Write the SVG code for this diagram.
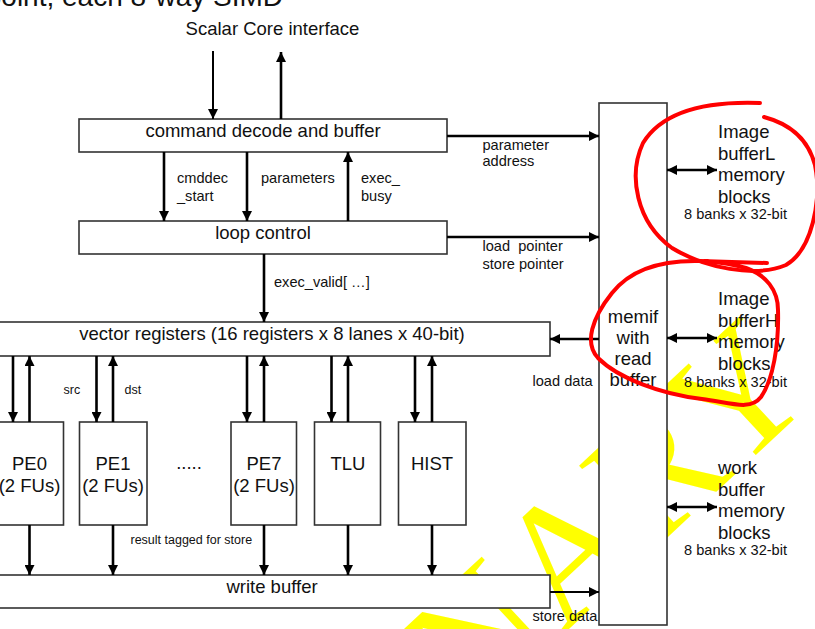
<svg xmlns="http://www.w3.org/2000/svg" width="815" height="629" viewBox="0 0 815 629">
<defs>
<style>
.box{fill:#fff;stroke:#333;stroke-width:1.6}
.ln{stroke:#000;stroke-width:2.6;fill:none}
.thin{stroke:#000;stroke-width:2;fill:none}
.t{font-family:"Liberation Sans",Arial,sans-serif;fill:#111}
.big{font-size:18.5px}
.mid{font-size:14.6px}
.sm{font-size:12.5px}
.c{text-anchor:middle}
.red{fill:none;stroke:#f00;stroke-width:4;stroke-linecap:round;stroke-linejoin:round}
</style>
<marker id="ah" viewBox="0 0 10 10" refX="10" refY="5" markerWidth="10" markerHeight="10" markerUnits="userSpaceOnUse" orient="auto-start-reverse"><path d="M0,0 L10,5 L0,10 z" fill="#000"/></marker>
</defs>
<rect width="815" height="629" fill="#fff"/>
<g id="watermark">
<text transform="translate(820,395) rotate(-43)" text-anchor="end" font-family="Liberation Serif,serif" font-size="172" fill="#ffff00">NARY</text>
</g>
<text class="t" x="283" y="6" text-anchor="end" font-size="28">point, each 8-way SIMD</text>
<text class="t big c" x="272.5" y="35">Scalar Core interface</text>
<g id="cmd"><rect class="box" x="79" y="119" width="368" height="33"/><text class="t big c" x="263" y="137">command decode and buffer</text></g>
<g id="loop"><rect class="box" x="79" y="221" width="368" height="33"/><text class="t big c" x="263" y="239">loop control</text></g>
<g id="vreg"><rect class="box" x="-5" y="322" width="555" height="34"/><text class="t big c" x="272" y="340">vector registers (16 registers x 8 lanes x 40-bit)</text></g>
<g id="pe0"><rect class="box" x="-4" y="422" width="67.5" height="103"/><text class="t big c" x="29.5" y="470">PE0</text><text class="t big c" x="29.5" y="492">(2 FUs)</text></g>
<g id="pe1"><rect class="box" x="79.5" y="422" width="67.5" height="103"/><text class="t big c" x="113" y="470">PE1</text><text class="t big c" x="113" y="492">(2 FUs)</text></g>
<text class="t big c" x="189" y="469">.....</text>
<g id="pe7"><rect class="box" x="231" y="422" width="65.5" height="103"/><text class="t big c" x="264" y="470">PE7</text><text class="t big c" x="264" y="492">(2 FUs)</text></g>
<g id="tlu"><rect class="box" x="314.5" y="422" width="66" height="103"/><text class="t big c" x="348" y="470">TLU</text></g>
<g id="hist"><rect class="box" x="398.5" y="422" width="67.5" height="103"/><text class="t big c" x="432" y="470">HIST</text></g>
<g id="wbuf"><rect class="box" x="-5" y="575" width="555" height="33"/><text class="t big c" x="272" y="593">write buffer</text></g>
<g id="memif"><rect class="box" x="599" y="103" width="68" height="522"/><text class="t big c" x="633" y="323">memif</text><text class="t big c" x="633" y="344">with</text><text class="t big c" x="633" y="365">read</text><text class="t big c" x="633" y="386">buffer</text></g>
<g id="bufL"><text class="t big" x="718" y="138">Image</text><text class="t big" x="718" y="159.5">bufferL</text><text class="t big" x="718" y="181">memory</text><text class="t big" x="718" y="202.5">blocks</text><text class="t mid" x="684" y="218.5">8 banks x 32-bit</text></g>
<g id="bufH"><text class="t big" x="718" y="305">Image</text><text class="t big" x="718" y="326.5">bufferH</text><text class="t big" x="718" y="348">memory</text><text class="t big" x="718" y="369.5">blocks</text><text class="t mid" x="684" y="386.5">8 banks x 32-bit</text></g>
<g id="work"><text class="t big" x="718" y="474">work</text><text class="t big" x="718" y="496">buffer</text><text class="t big" x="718" y="517">memory</text><text class="t big" x="718" y="539">blocks</text><text class="t mid" x="684" y="555">8 banks x 32-bit</text></g>
<g id="connectors">
<line class="thin" x1="213" y1="51" x2="213" y2="119" marker-end="url(#ah)"/>
<line class="ln" x1="281" y1="119" x2="281" y2="52" marker-end="url(#ah)"/>
<line class="ln" x1="164" y1="152" x2="164" y2="221" marker-end="url(#ah)"/>
<line class="ln" x1="247" y1="152" x2="247" y2="221" marker-end="url(#ah)"/>
<line class="ln" x1="348" y1="221" x2="348" y2="152" marker-end="url(#ah)"/>
<line class="ln" x1="447" y1="136" x2="599" y2="136" marker-end="url(#ah)"/>
<line class="ln" x1="447" y1="237" x2="599" y2="237" marker-end="url(#ah)"/>
<line class="ln" x1="264" y1="254" x2="264" y2="322" marker-end="url(#ah)"/>
<line class="ln" x1="599" y1="339" x2="550" y2="339" marker-end="url(#ah)"/>
<line class="ln" x1="667" y1="170" x2="717" y2="170" marker-start="url(#ah)" marker-end="url(#ah)"/>
<line class="ln" x1="667" y1="338" x2="717" y2="338" marker-start="url(#ah)" marker-end="url(#ah)"/>
<line class="ln" x1="667" y1="507" x2="717" y2="507" marker-start="url(#ah)" marker-end="url(#ah)"/>
<line class="thin" x1="550" y1="592" x2="599" y2="592" marker-end="url(#ah)"/>
<line class="ln" x1="13" y1="356" x2="13" y2="422" marker-end="url(#ah)"/>
<line class="ln" x1="29.5" y1="422" x2="29.5" y2="356" marker-end="url(#ah)"/>
<line class="ln" x1="96.5" y1="356" x2="96.5" y2="422" marker-end="url(#ah)"/>
<line class="ln" x1="113" y1="422" x2="113" y2="356" marker-end="url(#ah)"/>
<line class="ln" x1="247" y1="356" x2="247" y2="422" marker-end="url(#ah)"/>
<line class="ln" x1="264" y1="422" x2="264" y2="356" marker-end="url(#ah)"/>
<line class="ln" x1="331.5" y1="356" x2="331.5" y2="422" marker-end="url(#ah)"/>
<line class="ln" x1="348" y1="422" x2="348" y2="356" marker-end="url(#ah)"/>
<line class="ln" x1="415" y1="356" x2="415" y2="422" marker-end="url(#ah)"/>
<line class="ln" x1="432" y1="422" x2="432" y2="356" marker-end="url(#ah)"/>
<line class="ln" x1="29.5" y1="525" x2="29.5" y2="575" marker-end="url(#ah)"/>
<line class="ln" x1="113" y1="525" x2="113" y2="575" marker-end="url(#ah)"/>
<line class="ln" x1="264" y1="525" x2="264" y2="575" marker-end="url(#ah)"/>
<line class="ln" x1="348" y1="525" x2="348" y2="575" marker-end="url(#ah)"/>
<line class="ln" x1="432" y1="525" x2="432" y2="575" marker-end="url(#ah)"/>
<text class="t mid" x="177" y="183">cmddec</text>
<text class="t mid" x="177" y="201">_start</text>
<text class="t mid" x="261" y="183">parameters</text>
<text class="t mid" x="361" y="183">exec_</text>
<text class="t mid" x="361" y="201">busy</text>
<text class="t mid" x="482.5" y="150">parameter</text>
<text class="t mid" x="482.5" y="166">address</text>
<text class="t mid" x="482.5" y="251" xml:space="preserve">load  pointer</text>
<text class="t mid" x="482.5" y="269">store pointer</text>
<text class="t mid" x="274" y="287">exec_valid[ …]</text>
<text class="t sm" x="63.5" y="394">src</text>
<text class="t sm" x="124.5" y="394">dst</text>
<text class="t sm" x="130.5" y="544">result tagged for store</text>
<text class="t mid" x="532.5" y="386">load data</text>
<text class="t mid" x="532.5" y="621">store data</text>
</g>
<g id="annotations">
<path class="red" d="M760,103 C705,101 662,112 643,143 C628,175 636,222 672,248 C705,268 755,278 786,265 C812,250 822,200 815,165 C808,138 790,124 764,117"/>
<path class="red" d="M767,263 L700,261 C660,260 630,270 612,293 C592,318 584,343 598,358 C618,378 660,394 702,399 C732,403 750,411 761,397 C773,380 779,345 778,310 C778,290 766,275 746,268 C732,264 716,262 705,261"/>
</g>
</svg>
